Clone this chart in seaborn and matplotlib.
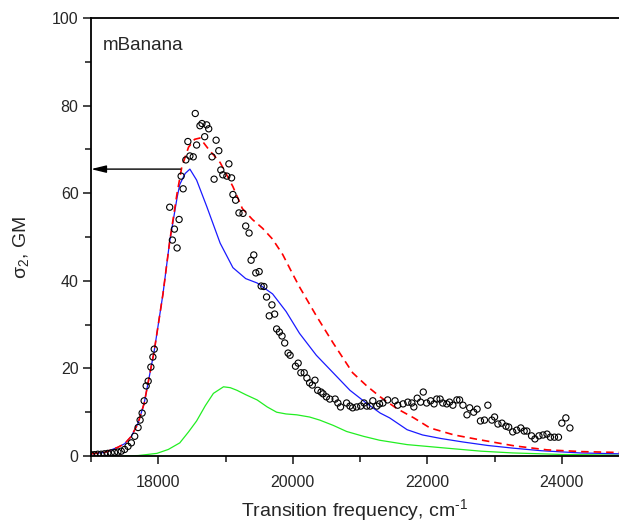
import numpy as np
import pandas as pd
import matplotlib
matplotlib.use("Agg")
import matplotlib.pyplot as plt
import seaborn as sns

# ---------------- data ----------------
blue_x = [17000, 17200, 17400, 17500, 17600, 17700, 17790, 17940, 18070, 18170, 18280, 18320,
          18400, 18470, 18570, 18720, 18920, 19110, 19300, 19470, 19700, 19900, 20100, 20350,
          20600, 20850, 21100, 21300, 21440, 21700, 21930, 22200, 22530, 22900, 23270, 23700,
          24270, 24850]
blue_y = [0.5, 0.8, 2.0, 2.8, 4.5, 7.5, 12.0, 24.0, 37.0, 49.0, 59.0, 62.0,
          64.5, 65.5, 63.0, 57.0, 48.6, 43.0, 40.5, 39.5, 37.0, 33.0, 28.0, 23.0,
          19.0, 15.0, 12.0, 9.8, 8.7, 6.0, 4.8, 4.0, 3.2, 2.4, 1.8, 1.2,
          0.7, 0.5]

red_x = [17000, 17200, 17400, 17500, 17600, 17700, 17790, 17940, 18070, 18170, 18280, 18350,
         18450, 18540, 18620, 18750, 18920, 19110, 19250, 19400, 19550, 19700, 19850, 20000,
         20100, 20350, 20600, 20890, 21100, 21300, 21550, 21800, 22040, 22400, 22780, 23300,
         23780, 24300, 24850]
red_y = [0.5, 0.8, 2.0, 2.8, 4.5, 7.5, 12.0, 24.0, 37.0, 49.0, 60.0, 66.0,
         70.5, 72.3, 72.6, 70.0, 67.0, 61.5, 56.5, 54.0, 52.0, 49.5, 46.0, 41.5,
         38.6, 32.0, 25.8, 19.0, 16.0, 13.5, 10.8, 8.7, 6.4, 4.8, 3.7, 2.3,
         1.4, 1.0, 0.8]

green_x = [17480, 17700, 17980, 18150, 18320, 18450, 18570, 18700, 18820, 18970, 19070, 19170,
           19300, 19470, 19620, 19760, 19900, 20060, 20250, 20400, 20600, 20800, 21050, 21290,
           21700, 22280, 22800, 23270, 24000, 24850]
green_y = [0.0, 0.1, 0.6, 1.5, 3.0, 5.5, 8.0, 11.5, 14.3, 15.8, 15.6, 15.0,
           14.0, 12.8, 11.2, 10.0, 9.6, 9.4, 8.9, 8.2, 7.0, 5.6, 4.5, 3.6,
           2.6, 1.8, 1.1, 0.7, 0.35, 0.2]

exp_x = [17000, 17050, 17100, 17150, 17200, 17250, 17300, 17350, 17400, 17450, 17500, 17550,
         17600, 17650, 17700, 17730, 17760, 17790, 17820, 17850, 17890, 17920, 17940,
         18170, 18210, 18240, 18280, 18310, 18340, 18370, 18410, 18440, 18470, 18520, 18550,
         18570, 18620, 18650, 18690, 18720, 18750, 18800, 18830, 18860, 18900, 18930, 18960,
         19020, 19050, 19090, 19110, 19150, 19200, 19260, 19300, 19350, 19380, 19420, 19450,
         19500, 19530, 19570, 19610, 19650, 19690, 19730, 19760, 19800, 19840, 19880, 19930,
         19960, 20040, 20080, 20120, 20170, 20210, 20250, 20290, 20330, 20370, 20420, 20450,
         20500, 20550, 20630, 20670, 20710, 20800, 20850, 20890, 20950, 21010, 21060, 21100,
         21150, 21190, 21250, 21290, 21340, 21410, 21520, 21560, 21640, 21710, 21770, 21800,
         21850, 21900, 21940, 21990, 22050, 22100, 22140, 22190, 22230, 22290, 22330, 22380,
         22440, 22480, 22530, 22590, 22630, 22690, 22740, 22790, 22850, 22900, 22960, 23000,
         23050, 23110, 23170, 23210, 23270, 23330, 23390, 23440, 23480, 23550, 23600, 23660,
         23720, 23780, 23830, 23890, 23950, 24000, 24060, 24120]
exp_y = [0.3, 0.3, 0.4, 0.4, 0.5, 0.6, 0.7, 0.8, 0.9, 1.1, 1.5, 2.2,
         3.0, 4.5, 6.5, 8.2, 9.8, 12.6, 16.0, 17.1, 20.3, 22.6, 24.4,
         56.8, 49.3, 51.8, 47.5, 54.0, 63.9, 61.0, 67.6, 71.8, 68.5, 68.3, 78.2,
         71.0, 75.4, 75.9, 72.9, 75.6, 74.7, 68.3, 63.2, 72.1, 69.7, 65.3, 64.2,
         63.9, 66.7, 63.5, 59.7, 58.4, 55.5, 55.4, 52.5, 50.9, 44.7, 45.9, 41.8,
         42.1, 38.8, 38.7, 36.3, 32.0, 34.5, 32.4, 29.0, 28.3, 27.4, 25.8, 23.5,
         23.0, 20.5, 21.2, 19.0, 19.0, 17.8, 16.7, 16.2, 17.3, 15.0, 14.6, 14.2,
         13.5, 13.0, 13.0, 12.1, 11.2, 12.1, 11.4, 11.0, 11.2, 11.4, 12.1, 11.4,
         11.4, 12.6, 11.4, 11.9, 12.1, 12.8, 12.6, 11.6, 11.9, 12.3, 12.1, 11.2,
         13.2, 12.3, 14.6, 12.1, 12.6, 11.9, 13.0, 13.0, 12.1, 11.9, 12.3, 11.6,
         12.8, 12.8, 11.6, 9.4, 11.0, 10.0, 10.7, 8.0, 8.2, 11.6, 8.2, 8.9,
         7.3, 7.5, 6.8, 6.6, 5.5, 5.9, 6.4, 5.7, 5.7, 4.6, 3.9, 4.6,
         4.8, 5.0, 4.3, 4.3, 4.3, 7.5, 8.7, 6.4]

arrow_y = 65.5
arrow_x_start = 18330
label_text = "mBanana"

# ---------------- style ----------------
sns.set_style("ticks")
plt.rcParams['font.family'] = ['Liberation Sans', 'DejaVu Sans']
plt.rcParams['mathtext.fontset'] = 'custom'
plt.rcParams['mathtext.rm'] = 'Liberation Sans'
plt.rcParams['mathtext.it'] = 'Liberation Sans:italic'
plt.rcParams['axes.unicode_minus'] = False

fig = plt.figure(figsize=(6.19, 5.30), dpi=100)
ax = fig.add_axes([91 / 619, 74 / 530, 528 / 619, 438 / 530])

sns.lineplot(x=green_x, y=green_y, ax=ax, color='#22ee22', linewidth=0.9)
sns.lineplot(x=blue_x, y=blue_y, ax=ax, color='#1a1aff', linewidth=0.9)
sns.lineplot(x=red_x, y=red_y, ax=ax, color='#ff0000', linewidth=1.2, linestyle=(0, (4.5, 3)))
sns.scatterplot(x=exp_x, y=exp_y, ax=ax, s=20, marker='o', facecolor='none',
                edgecolor='black', linewidth=0.8, zorder=5)

ax.annotate('', xy=(17000, arrow_y), xytext=(arrow_x_start, arrow_y),
            arrowprops=dict(arrowstyle='-|>,head_length=0.9,head_width=0.22',
                            color='black', lw=1.0, shrinkA=0, shrinkB=0), zorder=6)

ax.text(0.023, 0.938, label_text, transform=ax.transAxes, fontsize=13.5,
        va='center', ha='left')

ax.set_xlim(17000, 24850)
ax.set_ylim(0, 100)
ax.set_xticks([18000, 20000, 22000, 24000])
ax.set_xticks([17000, 19000, 21000, 23000], minor=True)
ax.set_yticks([0, 20, 40, 60, 80, 100])
ax.set_yticks([10, 30, 50, 70, 90], minor=True)
ax.tick_params(which='major', direction='out', length=6, width=1.2, labelsize=11.5)
ax.tick_params(axis='x', which='major', pad=8)
ax.tick_params(axis='y', which='major', pad=3)
ax.tick_params(which='minor', direction='out', length=4, width=1.2)

ax.set_xlabel(r'Transition frequency, cm$^{\text{-1}}$', fontsize=14, labelpad=5)
ax.set_ylabel(r'σ$_2$, GM', fontsize=14)
ax.yaxis.set_label_coords(-0.113, 0.475)

for s in ['left', 'bottom', 'top']:
    ax.spines[s].set_linewidth(1.3)
    ax.spines[s].set_color('black')
ax.spines['right'].set_visible(False)

fig.savefig('out.png', dpi=100)
